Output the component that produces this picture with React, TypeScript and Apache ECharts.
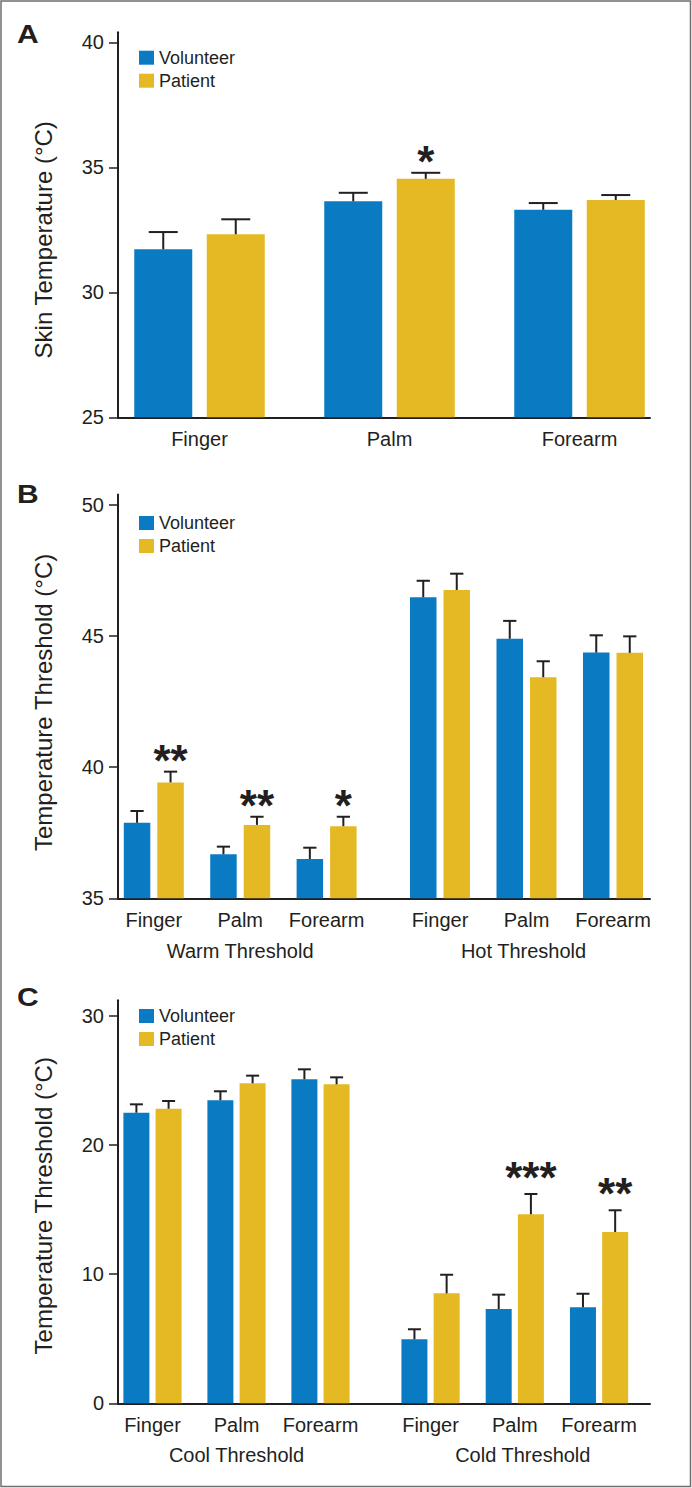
import React, { useEffect, useRef } from 'react';
import * as echarts from 'echarts';

// ---------- data ----------
const sites = ['Finger', 'Palm', 'Forearm'];

// Panel A – skin temperature
const skinVolunteer = [31.72, 33.64, 33.3];
const skinVolunteerErr = [0.69, 0.34, 0.27];
const skinPatient = [32.32, 34.54, 33.69];
const skinPatientErr = [0.6, 0.24, 0.2];
const skinSig = ['', '*', ''];
const skinTicks = [25, 30, 35, 40];

// Panel B – warm / hot thresholds
const warmVolunteer = [37.88, 36.68, 36.5];
const warmVolunteerErr = [0.45, 0.29, 0.43];
const warmPatient = [39.42, 37.8, 37.75];
const warmPatientErr = [0.41, 0.31, 0.36];
const warmSig = ['**', '**', '*'];
const hotVolunteer = [46.48, 44.9, 44.37];
const hotVolunteerErr = [0.63, 0.68, 0.66];
const hotPatient = [46.76, 43.43, 44.36];
const hotPatientErr = [0.62, 0.61, 0.63];
const hotSig = ['', '', ''];
const heatTicks = [35, 40, 45, 50];

// Panel C – cool / cold thresholds
const coolVolunteer = [22.49, 23.45, 25.08];
const coolVolunteerErr = [0.65, 0.7, 0.77];
const coolPatient = [22.8, 24.77, 24.69];
const coolPatientErr = [0.6, 0.59, 0.54];
const coolSig = ['', '', ''];
const coldVolunteer = [4.95, 7.3, 7.43];
const coldVolunteerErr = [0.78, 1.11, 1.05];
const coldPatient = [8.51, 14.63, 13.26];
const coldPatientErr = [1.44, 1.57, 1.68];
const coldSig = ['', '***', '**'];
const coldTicks = [0, 10, 20, 30];

const seriesNames = ['Volunteer', 'Patient'];

// ---------- styles ----------
const FONT = '"Liberation Sans", Arial, Helvetica, sans-serif';
const INK = '#231f20';
const BLUE = '#0a7bc2';
const GOLD = '#e5b923';
const STAR_SIZE = 44;

type Group = {
  name?: string;
  cats: string[];
  vol: number[];
  volErr: number[];
  pat: number[];
  patErr: number[];
  sig: string[];
  left: number;
  width: number;
  namePad?: number[];
};

type Panel = {
  letter: string;
  letterTop: number;
  top: number;
  height: number;
  min: number;
  max: number;
  ticks: number[];
  title: string;
  titlePad: number[];
  barWidth: number;
  gap: number;
  starGap: number;
  legendTop: number;
  nameGap: number;
  groups: Group[];
};

const panels: Panel[] = [
  {
    letter: 'A', letterTop: 22, top: 32.3, height: 385, min: 25, max: 40.4, ticks: skinTicks,
    title: 'Skin Temperature (°C)', titlePad: [0, 30, 0, 0],
    barWidth: 58, gap: 14.5, starGap: 21, legendTop: 48.7, nameGap: 43,
    groups: [
      { cats: sites, vol: skinVolunteer, volErr: skinVolunteerErr, pat: skinPatient, patErr: skinPatientErr, sig: skinSig, left: 104.5, width: 570 },
    ],
  },
  {
    letter: 'B', letterTop: 482, top: 494.5, height: 403.8, min: 35, max: 50.4, ticks: heatTicks,
    title: 'Temperature Threshold (°C)', titlePad: [0, 12, 0, 0],
    barWidth: 26.5, gap: 7, starGap: 21, legendTop: 514, nameGap: 43,
    groups: [
      { name: 'Warm Threshold', cats: sites, vol: warmVolunteer, volErr: warmVolunteerErr, pat: warmPatient, patErr: warmPatientErr, sig: warmSig, left: 110.6, width: 259.2 },
      { name: 'Hot Threshold', cats: sites, vol: hotVolunteer, volErr: hotVolunteerErr, pat: hotPatient, patErr: hotPatientErr, sig: hotSig, left: 396.75, width: 259.5, namePad: [0, 6, 0, 0] },
    ],
  },
  {
    letter: 'C', letterTop: 985, top: 1000.2, height: 403.1, min: 0, max: 31.2, ticks: coldTicks,
    title: 'Temperature Threshold (°C)', titlePad: [0, 8, 0, 0],
    barWidth: 26, gap: 6.2, starGap: 26, legendTop: 1007, nameGap: 42,
    groups: [
      { name: 'Cool Threshold', cats: sites, vol: coolVolunteer, volErr: coolVolunteerErr, pat: coolPatient, patErr: coolPatientErr, sig: coolSig, left: 110.5, width: 252 },
      { name: 'Cold Threshold', cats: sites, vol: coldVolunteer, volErr: coldVolunteerErr, pat: coldPatient, patErr: coldPatientErr, sig: coldSig, left: 388.4, width: 252.8, namePad: [0, 0, 0, 16] },
    ],
  },
];

function buildOption() {
  const grid: any[] = [];
  const xAxis: any[] = [];
  const yAxis: any[] = [];
  const series: any[] = [];
  const legend: any[] = [];
  const graphic: any[] = [];

  graphic.push({
    type: 'rect', z: 0,
    shape: { x: 1, y: 1, width: 689.5, height: 1485.5 },
    style: { fill: 'none', stroke: '#6e6e6e', lineWidth: 1.5 },
  });

  panels.forEach((p) => {
    graphic.push({
      type: 'text', left: 17, top: p.letterTop, scaleX: 1.2,
      style: { text: p.letter, font: `bold 25px ${FONT}`, fill: INK },
    });

    // frame grid: axis lines, ticks, y labels, y title
    const fi = grid.length;
    grid.push({ left: 118, width: 532, top: p.top, height: p.height });
    xAxis.push({
      gridIndex: fi, type: 'value', min: 0, max: 1,
      axisLine: { show: true, lineStyle: { color: INK, width: 2 } },
      axisTick: { show: false }, axisLabel: { show: false }, splitLine: { show: false },
    });
    yAxis.push({
      gridIndex: fi, type: 'value', min: p.min, max: p.max,
      axisLine: { show: true, lineStyle: { color: INK, width: 2 } },
      axisTick: { show: true, length: 9, customValues: p.ticks, lineStyle: { color: INK, width: 1.5 } },
      axisLabel: { customValues: p.ticks, margin: 14, fontSize: 20, color: INK, fontFamily: FONT },
      splitLine: { show: false },
      name: p.title, nameLocation: 'middle', nameGap: 63,
      nameTextStyle: { fontSize: 24, color: INK, fontFamily: FONT, padding: p.titlePad },
    });

    legend.push({
      left: 139, top: p.legendTop, orient: 'vertical', padding: 0,
      itemWidth: 15, itemHeight: 14, itemGap: 5, icon: 'rect',
      selectedMode: false, data: seriesNames,
      textStyle: { fontSize: 18, color: INK, fontFamily: FONT, padding: [0, 0, 0, 0] },
    });

    p.groups.forEach((g) => {
      const gi = grid.length;
      grid.push({ left: g.left, width: g.width, top: p.top, height: p.height });
      xAxis.push({
        gridIndex: gi, type: 'category', data: g.cats,
        axisLine: { show: false }, axisTick: { show: false },
        axisLabel: { interval: 0, margin: 12, fontSize: 20, color: INK, fontFamily: FONT },
        name: g.name || '', nameLocation: 'middle', nameGap: p.nameGap,
        nameTextStyle: { fontSize: 20, color: INK, fontFamily: FONT, padding: g.namePad || 0 },
      });
      yAxis.push({ gridIndex: gi, type: 'value', min: p.min, max: p.max, show: false });

      const sets = [
        { name: seriesNames[0], vals: g.vol, errs: g.volErr, color: BLUE, offset: -(p.barWidth + p.gap) / 2, sig: null as string[] | null },
        { name: seriesNames[1], vals: g.pat, errs: g.patErr, color: GOLD, offset: (p.barWidth + p.gap) / 2, sig: g.sig },
      ];
      sets.forEach((s) => {
        series.push({
          type: 'bar', name: s.name, xAxisIndex: gi, yAxisIndex: gi,
          data: s.vals, barWidth: p.barWidth, barGap: `${(p.gap / p.barWidth) * 100}%`,
          itemStyle: { color: s.color }, z: 2,
        });
      });
      sets.forEach((s) => {
        const sig = s.sig;
        series.push({
          type: 'custom', name: 'err-' + s.name, xAxisIndex: gi, yAxisIndex: gi, z: 3,
          data: s.vals.map((v, i) => [i, v, s.errs[i]]),
          encode: { x: 0, y: 1 },
          renderItem: (params: any, api: any) => {
            const idx = api.value(0);
            const val = api.value(1);
            const err = api.value(2);
            const base = api.coord([idx, val]);
            const top = api.coord([idx, val + err]);
            const x = base[0] + s.offset;
            const half = p.barWidth / 4;
            const children: any[] = [
              { type: 'line', shape: { x1: x, y1: base[1], x2: x, y2: top[1] }, style: { stroke: INK, lineWidth: 2 } },
              { type: 'line', shape: { x1: x - half, y1: top[1], x2: x + half, y2: top[1] }, style: { stroke: INK, lineWidth: 2 } },
            ];
            const t = sig ? sig[params.dataIndex] : '';
            if (t) {
              children.push({
                type: 'text', x, y: top[1] - p.starGap + 0.22 * STAR_SIZE,
                style: { text: t, font: `bold ${STAR_SIZE}px ${FONT}`, fill: INK, align: 'center', verticalAlign: 'middle' },
              });
            }
            return { type: 'group', children };
          },
        });
      });
    });
  });

  return { animation: false, grid, xAxis, yAxis, series, legend, graphic };
}

export default function App() {
  const ref = useRef<HTMLDivElement>(null);
  useEffect(() => {
    if (!ref.current) return;
    const chart = echarts.init(ref.current, undefined, { renderer: 'svg' });
    chart.setOption(buildOption() as any);
    return () => chart.dispose();
  }, []);
  return (
    <div
      ref={ref}
      style={{ position: 'absolute', left: 0, top: 0, width: 692, height: 1488, background: '#fff' }}
    />
  );
}
